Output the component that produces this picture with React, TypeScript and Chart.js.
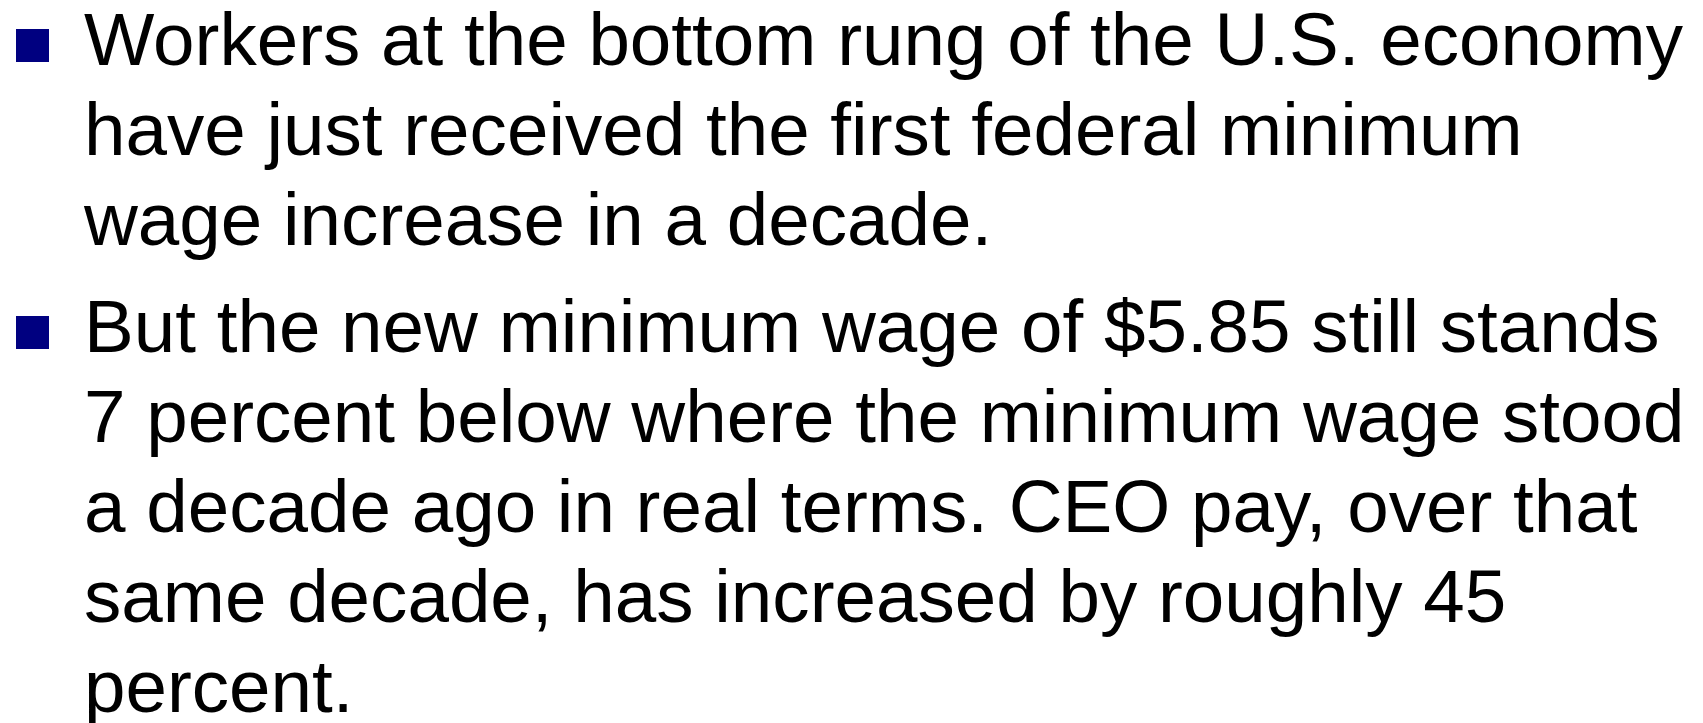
import React, { useEffect, useRef } from "react";
import { Chart, registerables } from "chart.js";

Chart.register(...registerables);

const bullet1Lines: string[] = [
  "Workers at the bottom rung of the U.S. economy",
  "have just received the first federal minimum",
  "wage increase in a decade.",
];

const bullet2Lines: string[] = [
  "But the new minimum wage of $5.85 still stands",
  "7 percent below where the minimum wage stood",
  "a decade ago in real terms. CEO pay, over that",
  "same decade, has increased by roughly 45",
  "percent.",
];

const paragraphs: string[][] = [bullet1Lines, bullet2Lines];

const FONT_SIZE = 74.6;
const FAMILY = "'Liberation Sans', Arial, Helvetica, sans-serif";
const TEXT_X = 84;
const FIRST_BASELINE = 65;
const LINE_H = 90;
const PARA_GAP = 17;
const BULLET_X = 16;
const BULLET_SIZE = 33;
const BULLET_ABOVE_BASELINE = 3;
const BULLET_COLOR = "#000080";
const TEXT_COLOR = "#000000";

const slideTextPlugin = {
  id: "slideText",
  afterDraw(chart: any) {
    const ctx = chart.ctx as CanvasRenderingContext2D;
    ctx.save();
    ctx.font = `normal ${FONT_SIZE}px ${FAMILY}`;
    ctx.textAlign = "left";
    ctx.textBaseline = "alphabetic";
    let y = FIRST_BASELINE;
    paragraphs.forEach((lines, pi) => {
      if (pi > 0) y += PARA_GAP;
      ctx.fillStyle = BULLET_COLOR;
      ctx.fillRect(BULLET_X, y - BULLET_ABOVE_BASELINE - BULLET_SIZE, BULLET_SIZE, BULLET_SIZE);
      ctx.fillStyle = TEXT_COLOR;
      lines.forEach((line, li) => {
        ctx.fillText(line, TEXT_X, y);
        if (!(pi === paragraphs.length - 1 && li === lines.length - 1)) y += LINE_H;
      });
      y += 0;
    });
    ctx.restore();
  },
};

export default function App() {
  const ref = useRef<HTMLCanvasElement | null>(null);
  useEffect(() => {
    if (!ref.current) return;
    const chart = new Chart(ref.current, {
      type: "bar",
      data: { labels: [], datasets: [] },
      options: {
        responsive: false,
        animation: false,
        scales: { x: { display: false }, y: { display: false } },
        plugins: {
          legend: { display: false },
          tooltip: { enabled: false },
          title: { display: false },
        },
      },
      plugins: [slideTextPlugin],
    });
    return () => chart.destroy();
  }, []);
  return (
    <div style={{ position: "absolute", left: 0, top: 0, width: 1703, height: 723, background: "#ffffff" }}>
      <canvas ref={ref} width={1703} height={723} style={{ display: "block" }} />
    </div>
  );
}
